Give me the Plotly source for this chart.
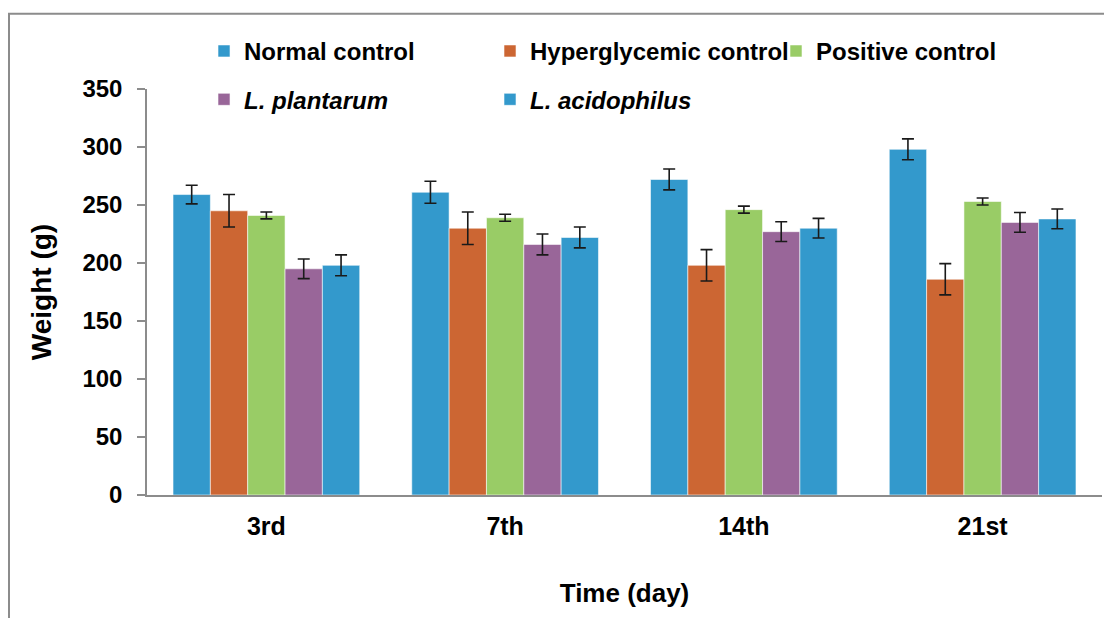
import plotly.graph_objects as go

days = ["3rd", "7th", "14th", "21st"]
series_names = ["Normal control", "Hyperglycemic control", "Positive control",
                "L. plantarum", "L. acidophilus"]
legend_labels = ["<b>Normal control</b>", "<b>Hyperglycemic control</b>", "<b>Positive control</b>",
                 "<b><i>L. plantarum</i></b>", "<b><i>L. acidophilus</i></b>"]
legend_rows = ["legend", "legend", "legend", "legend2", "legend2"]
normal_control = [259, 261, 272, 298]
hyperglycemic_control = [245, 230, 198, 186]
positive_control = [241, 239, 246, 253]
l_plantarum = [195, 216, 227, 235]
l_acidophilus = [198, 222, 230, 238]
err_normal = [8, 9.5, 9, 9]
err_hyper = [14, 14, 13.5, 13.5]
err_positive = [3, 3, 3, 3]
err_plantarum = [8.5, 9, 8.5, 8.5]
err_acidophilus = [9, 9, 8.5, 8.5]
colors = ["#3399CC", "#CC6633", "#99CC66", "#996699", "#3399CC"]

values = [normal_control, hyperglycemic_control, positive_control, l_plantarum, l_acidophilus]
errors = [err_normal, err_hyper, err_positive, err_plantarum, err_acidophilus]

FONT = "Liberation Sans, Arial, sans-serif"

fig = go.Figure()
for lab, v, e, c, lg in zip(legend_labels, values, errors, colors, legend_rows):
    fig.add_trace(go.Bar(
        x=days, y=v, name=lab, legend=lg,
        marker=dict(color=c, line=dict(color="rgba(255,255,255,0.7)", width=0.8)),
        error_y=dict(type="data", array=e, visible=True, color="#1a1a1a",
                     thickness=1.6, width=6),
    ))

legend_common = dict(
    orientation="h", xanchor="left", yanchor="middle",
    font=dict(family=FONT, size=24, color="black"),
    entrywidth=241, entrywidthmode="pixels",
    itemwidth=30, traceorder="normal", bgcolor="rgba(0,0,0,0)",
)

fig.update_layout(
    width=1112, height=618,
    margin=dict(l=139, r=18, t=81, b=131, autoexpand=False),
    paper_bgcolor="white", plot_bgcolor="white",
    barmode="group", bargap=0.218, bargroupgap=0,
    font=dict(family=FONT, color="black"),
    legend=dict(x=0.0597, y=1.0927, **legend_common),
    legend2=dict(x=0.0597, y=0.9736, **legend_common),
    xaxis=dict(
        showline=True, linecolor="#8c8c8c", linewidth=1.5,
        ticks="", tickfont=dict(family=FONT, size=25, weight="bold", color="black"),
        ticklabelstandoff=8,
        title=dict(text="Time (day)", font=dict(family=FONT, size=26, weight="bold", color="black"),
                   standoff=45),
    ),
    yaxis=dict(
        range=[0, 350], dtick=50, showgrid=False, zeroline=False,
        showline=True, linecolor="#8c8c8c", linewidth=1.5,
        ticks="outside", ticklen=8, tickcolor="#8c8c8c", tickwidth=1.5,
        tickfont=dict(family=FONT, size=24, weight="bold", color="black"),
        ticklabelstandoff=10,
        title=dict(text="Weight (g)", font=dict(family=FONT, size=28, weight="bold", color="black"),
                   standoff=23),
    ),
    shapes=[dict(type="rect", xref="paper", yref="paper",
                 x0=-0.1445, x1=1.1, y0=-0.5, y1=1.1856,
                 line=dict(color="#8c8c8c", width=2), fillcolor="rgba(0,0,0,0)", layer="below")],
)

fig.write_html("out.html")
